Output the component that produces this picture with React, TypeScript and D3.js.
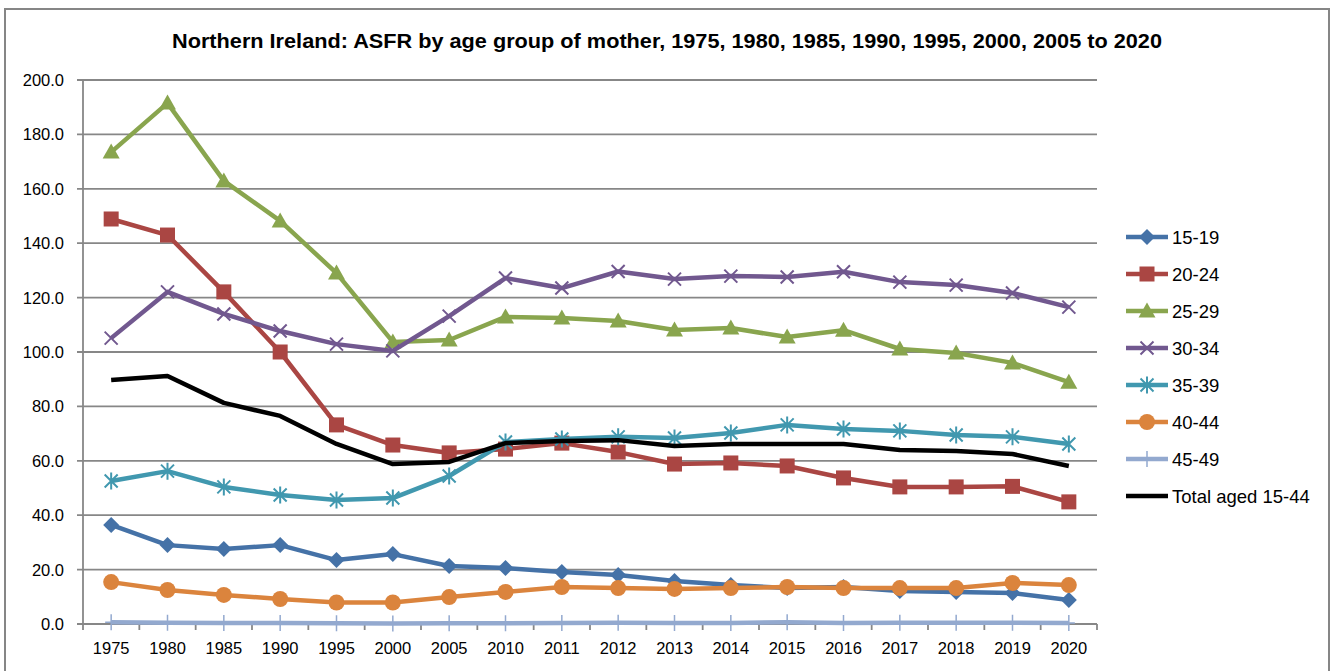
import React from "react";
import * as d3 from "d3";

const years = ["1975","1980","1985","1990","1995","2000","2005","2010","2011","2012","2013","2014","2015","2016","2017","2018","2019","2020"];
const a1519 = [36.4,29.0,27.6,29.0,23.5,25.7,21.3,20.6,19.1,18.0,15.8,14.3,13.2,13.6,12.1,11.8,11.4,8.8];
const a2024 = [148.9,143.0,122.1,100.0,73.2,65.8,62.9,64.3,66.5,63.2,58.8,59.2,58.1,53.7,50.4,50.4,50.6,44.9];
const a2529 = [173.5,191.5,162.9,148.2,129.0,103.7,104.4,112.9,112.5,111.4,108.1,108.8,105.5,108.0,101.1,99.6,96.0,88.9];
const a3034 = [105.1,122.1,114.0,107.7,102.9,100.4,113.2,127.2,123.5,129.6,126.8,127.9,127.6,129.5,125.7,124.6,121.7,116.5];
const a3539 = [52.6,56.2,50.4,47.4,45.6,46.3,54.4,66.9,68.0,68.8,68.4,70.2,73.2,71.7,71.0,69.5,68.8,66.2];
const a4044 = [15.4,12.5,10.7,9.2,7.9,7.9,9.9,11.8,13.6,13.2,12.9,13.2,13.6,13.2,13.2,13.2,15.1,14.3];
const a4549 = [0.6,0.5,0.4,0.4,0.3,0.2,0.3,0.3,0.4,0.5,0.4,0.4,0.6,0.4,0.5,0.5,0.5,0.4];
const total = [89.7,91.2,81.3,76.5,66.2,58.8,59.6,66.5,67.3,67.6,65.4,66.2,66.2,66.2,64.0,63.6,62.5,58.1];
const yTicks = [0,20,40,60,80,100,120,140,160,180,200];

const seriesNames = ["15-19","20-24","25-29","30-34","35-39","40-44","45-49","Total aged 15-44"];
const seriesValues = [a1519,a2024,a2529,a3034,a3539,a4044,a4549,total];
const seriesColors = ["#4572A7","#AA4643","#89A54E","#71588F","#4198AF","#DB843D","#93A9CF","#000000"];
const seriesMarkers = ["diamond","square","triangle","x","star","circle","plus","none"];

const FONT = "'Liberation Sans', Arial, sans-serif";

function Marker({ type, x, y, color }: { type: string; x: number; y: number; color: string }) {
  switch (type) {
    case "diamond":
      return <path d={`M${x},${y - 8}L${x + 8},${y}L${x},${y + 8}L${x - 8},${y}Z`} fill={color} />;
    case "square":
      return <rect x={x - 7.5} y={y - 7.5} width={15} height={15} fill={color} />;
    case "triangle":
      return <path d={`M${x},${y - 8.5}L${x + 8.5},${y + 6.5}L${x - 8.5},${y + 6.5}Z`} fill={color} />;
    case "x":
      return <path d={`M${x - 6.5},${y - 6.5}L${x + 6.5},${y + 6.5}M${x - 6.5},${y + 6.5}L${x + 6.5},${y - 6.5}`} stroke={color} strokeWidth={2} />;
    case "star":
      return <path d={`M${x - 6.5},${y - 6.5}L${x + 6.5},${y + 6.5}M${x - 6.5},${y + 6.5}L${x + 6.5},${y - 6.5}M${x},${y - 8.5}L${x},${y + 8.5}`} stroke={color} strokeWidth={2} />;
    case "circle":
      return <circle cx={x} cy={y} r={8} fill={color} />;
    case "plus":
      return <path d={`M${x},${y - 8}L${x},${y + 8}M${x - 6},${y}L${x + 6},${y}`} stroke={color} strokeWidth={1.5} />;
    default:
      return null;
  }
}

export default function App() {
  const W = 1335, H = 671;
  const left = 83, right = 1097, top = 80, bottom = 624;
  const x = d3.scaleBand<string>().domain(years).range([left, right]);
  const y = d3.scaleLinear().domain([0, 200]).range([bottom, top]);
  const cx = (yr: string) => (x(yr) as number) + x.bandwidth() / 2;
  const line = d3.line<number>().x((_, i) => cx(years[i])).y((v) => y(v));
  const boundaries = years.map((yr) => x(yr) as number).concat([right]);

  const legendX = 1126, legendY0 = 237, legendDy = 37;

  return (
    <svg width={W} height={H} style={{ position: "absolute", left: 0, top: 0, display: "block" }}>
      <rect x={0} y={0} width={W} height={H} fill="#fff" />
      <rect x={5} y={9} width={1324} height={700} fill="#fff" stroke="#868686" strokeWidth={2} />
      <text x={667} y={48} textAnchor="middle" fontFamily={FONT} fontWeight="bold" fontSize={20} fill="#000" textLength={990} lengthAdjust="spacingAndGlyphs">
        Northern Ireland: ASFR by age group of mother, 1975, 1980, 1985, 1990, 1995, 2000, 2005 to 2020
      </text>
      {yTicks.map((t) => (
        <g key={t}>
          <line x1={left - 6} x2={right} y1={y(t)} y2={y(t)} stroke="#878787" strokeWidth={1.8} />
          <text x={64} y={y(t) + 6} textAnchor="end" fontFamily={FONT} fontSize={16.5} fill="#000">{t.toFixed(1)}</text>
        </g>
      ))}
      <line x1={left} x2={left} y1={top} y2={bottom} stroke="#878787" strokeWidth={1.8} />
      {boundaries.map((b, i) => (
        <line key={i} x1={b} x2={b} y1={bottom} y2={bottom + 6} stroke="#878787" strokeWidth={1.8} />
      ))}
      {years.map((yr) => (
        <text key={yr} x={cx(yr)} y={654} textAnchor="middle" fontFamily={FONT} fontSize={16.5} fill="#000">{yr}</text>
      ))}
      {seriesValues.map((vals, si) => (
        <g key={seriesNames[si]}>
          <path d={line(vals) as string} fill="none" stroke={seriesColors[si]} strokeWidth={4.5} strokeLinejoin="round" />
          {vals.map((v, i) => (
            <Marker key={i} type={seriesMarkers[si]} x={cx(years[i])} y={y(v)} color={seriesColors[si]} />
          ))}
        </g>
      ))}
      {seriesNames.map((n, si) => {
        const ly = legendY0 + si * legendDy;
        return (
          <g key={n}>
            <line x1={legendX} x2={legendX + 42} y1={ly} y2={ly} stroke={seriesColors[si]} strokeWidth={4.5} />
            <Marker type={seriesMarkers[si]} x={legendX + 21} y={ly} color={seriesColors[si]} />
            <text x={legendX + 46} y={ly + 6.5} fontFamily={FONT} fontSize={18.5} fill="#000">{n}</text>
          </g>
        );
      })}
    </svg>
  );
}
